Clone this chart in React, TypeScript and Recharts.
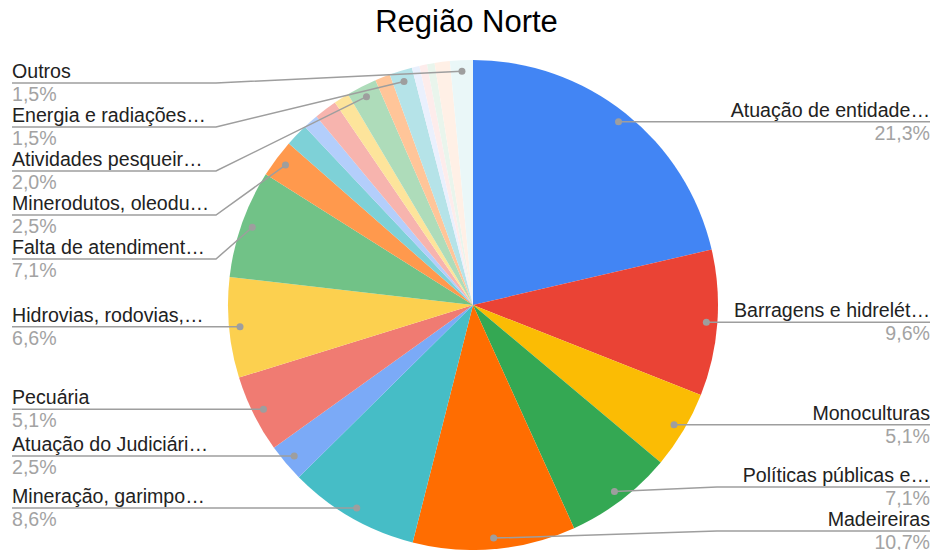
import { PieChart, Pie, Cell } from "recharts";

const categories = [
  "Atuação de entidade…",
  "Barragens e hidrelét…",
  "Monoculturas",
  "Políticas públicas e…",
  "Madeireiras",
  "Mineração, garimpo…",
  "Atuação do Judiciári…",
  "Pecuária",
  "Hidrovias, rodovias,…",
  "Falta de atendiment…",
  "Minerodutos, oleodu…",
  "Grilagem",
  "Agrotóxicos",
  "Especulação imobiliária",
  "Ferrovias",
  "Atividades pesqueir…",
  "Portos",
  "Energia e radiações…",
  "Turismo",
  "Caça",
  "Extrativismo",
  "Linhas de transmissão",
  "Outros",
];

const values = [
  21.3, 9.6, 5.1, 7.1, 10.7, 8.6, 2.5, 5.1, 6.6, 7.1, 2.5, 1.5, 1.0, 1.5, 1.0,
  2.0, 1.0, 1.5, 0.5, 0.5, 0.5, 1.0, 1.5,
];

// Google hides labels on the thin slices
const showLabel = [
  true, true, true, true, true, true, true, true, true, true, true, false,
  false, false, false, true, false, true, false, false, false, false, true,
];

const colors = [
  "#4285f4", "#ea4335", "#fbbc04", "#34a853", "#ff6d01", "#46bdc6",
  "#7baaf7", "#f07b72", "#fcd04f", "#71c287", "#ff994d", "#7ed1d7",
  "#b3cefb", "#f7b4ae", "#fde49b", "#aedcba", "#ffc599", "#b5e3e8",
  "#eaf0fd", "#fdeceb", "#e9f5ec", "#fff0e6", "#eaf7f8",
];

const data = categories.map((name, i) => ({ name, value: values[i] }));

const W = 933;
const H = 550;
const CX = 473;
const CY = 305;
const R = 245;
const DOT_INSET = 11;
const GAP = 44;
const TOP = 83;
const BOTTOM = 531;
const KNEE = 216;
const FONT = "Arial, 'Liberation Sans', sans-serif";
const LABEL_SIZE = 19.6;

// stack labels per side so they don't overlap
function layoutLabels() {
  const total = values.reduce((a, b) => a + b, 0);
  let cum = 0;
  const items = values.map((v, i) => {
    const mid = ((cum + v / 2) / total) * 2 * Math.PI;
    cum += v;
    return {
      i,
      right: Math.sin(mid) >= 0,
      y: CY - (R - DOT_INSET) * Math.cos(mid),
    };
  });
  const ys: Record<number, number> = {};
  for (const right of [true, false]) {
    const list = items
      .filter((it) => showLabel[it.i] && it.right === right)
      .sort((a, b) => a.y - b.y);
    const pos = list.map((it) => it.y);
    for (let k = 0; k < pos.length; k++) {
      pos[k] = Math.max(pos[k], k ? pos[k - 1] + GAP : TOP);
    }
    for (let k = pos.length - 1; k >= 0; k--) {
      pos[k] = Math.min(pos[k], k < pos.length - 1 ? pos[k + 1] - GAP : BOTTOM);
    }
    list.forEach((it, k) => (ys[it.i] = pos[k]));
  }
  return ys;
}

const labelY = layoutLabels();

const renderLabel = (props: any) => {
  const { cx, cy, midAngle, outerRadius, index, value } = props;
  if (!showLabel[index]) return null;
  const rad = Math.PI / 180;
  const dx = cx + (outerRadius - DOT_INSET) * Math.cos(-midAngle * rad);
  const dy = cy + (outerRadius - DOT_INSET) * Math.sin(-midAngle * rad);
  const ly = labelY[index];
  const right = dx >= cx;
  const kneeX = right ? W - KNEE : KNEE;
  const edgeX = right ? W - 3 : 12;
  const pct = value.toFixed(1).replace(".", ",") + "%";
  return (
    <g key={`lbl-${index}`}>
      <polyline
        points={`${dx},${dy} ${kneeX},${ly} ${edgeX},${ly}`}
        fill="none"
        stroke="#9e9e9e"
        strokeWidth={1.5}
      />
      <circle cx={dx} cy={dy} r={3.5} fill="#9e9e9e" />
      <text
        x={edgeX}
        y={ly - 5}
        textAnchor={right ? "end" : "start"}
        fontFamily={FONT}
        fontSize={LABEL_SIZE}
        fill="#222222"
      >
        {categories[index]}
      </text>
      <text
        x={edgeX}
        y={ly + 18}
        textAnchor={right ? "end" : "start"}
        fontFamily={FONT}
        fontSize={LABEL_SIZE}
        fill="#a3a3a3"
      >
        {pct}
      </text>
    </g>
  );
};

export default function App() {
  return (
    <div
      style={{
        position: "absolute",
        left: 0,
        top: 0,
        width: W,
        height: H,
        background: "#ffffff",
      }}
    >
      <div
        style={{
          position: "absolute",
          left: 0,
          top: 6,
          width: W,
          textAlign: "center",
          fontFamily: FONT,
          fontSize: 31,
          lineHeight: "31px",
          color: "#000000",
        }}
      >
        Região Norte
      </div>
      <PieChart width={W} height={H} margin={{ top: 0, right: 0, bottom: 0, left: 0 }}>
        <Pie
          data={data}
          dataKey="value"
          nameKey="name"
          cx={CX}
          cy={CY}
          outerRadius={R}
          startAngle={90}
          endAngle={-270}
          stroke="none"
          label={renderLabel}
          labelLine={false}
          isAnimationActive={false}
        >
          {data.map((d, i) => (
            <Cell key={d.name} fill={colors[i]} />
          ))}
        </Pie>
      </PieChart>
    </div>
  );
}
